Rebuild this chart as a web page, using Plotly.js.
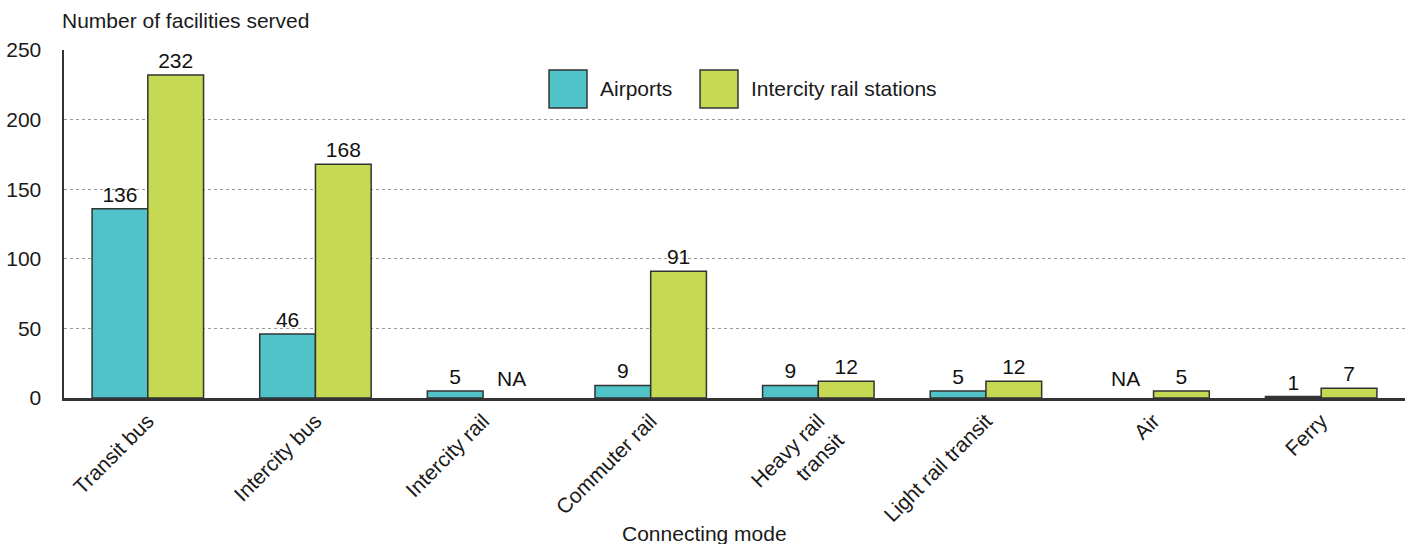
<!DOCTYPE html>
<html>
<head>
<meta charset="utf-8">
<script src="https://cdn.plot.ly/plotly-3.0.1.min.js"></script>
<style>html,body{margin:0;padding:0;background:#fff;}#chart{width:1411px;height:544px;}</style>
</head>
<body>
<div id="chart"></div>
<script>
var categories = ["Transit bus", "Intercity bus", "Intercity rail", "Commuter rail", "Heavy rail<br>transit", "Light rail transit", "Air", "Ferry"];
var airports = [136, 46, 5, 9, 9, 5, null, 1];
var railStations = [232, 168, null, 91, 12, 12, 5, 7];
var seriesNames = ["Airports", "Intercity rail stations"];
var seriesColors = ["#4fc3c8", "#c5da52"];
var yTicks = [0, 50, 100, 150, 200, 250];

var FONT = "Liberation Sans, Arial, Helvetica, sans-serif";
var lineCol = "#333333";

function barTrace(name, vals, color) {
  return {
    type: "bar", name: name, x: categories, y: vals,
    marker: {color: color, line: {color: lineCol, width: 1.5}},
    texttemplate: "%{y}", textposition: "outside", cliponaxis: false,
    textfont: {family: FONT, size: 21, color: "#111"},
    hoverinfo: "x+y"
  };
}

var traces = [
  barTrace(seriesNames[0], airports, seriesColors[0]),
  barTrace(seriesNames[1], railStations, seriesColors[1])
];

var annotations = [];
[airports, railStations].forEach(function (vals, si) {
  vals.forEach(function (v, i) {
    if (v === null) {
      annotations.push({
        x: categories[i], y: 0, xref: "x", yref: "y",
        text: "NA", showarrow: false, yanchor: "bottom", yshift: 6,
        xshift: si === 0 ? -28 : 28,
        font: {family: FONT, size: 21, color: "#111"}
      });
    }
  });
});

annotations.push({
  xref: "paper", yref: "paper", x: -0.003, y: 1.085, xanchor: "left", yanchor: "middle",
  text: "Number of facilities served", showarrow: false,
  font: {family: FONT, size: 21, color: "#1a1a1a"}
});
annotations.push({
  xref: "paper", yref: "paper", x: 0.478, y: -0.39, xanchor: "center", yanchor: "middle",
  text: "Connecting mode", showarrow: false,
  font: {family: FONT, size: 21, color: "#1a1a1a"}
});

// custom legend
var shapes = [];
var legX = [0.3617, 0.4743];
var legW = 0.0283;
seriesNames.forEach(function (n, i) {
  shapes.push({
    type: "rect", xref: "paper", yref: "paper",
    x0: legX[i], x1: legX[i] + legW, y0: 0.8333, y1: 0.9425,
    fillcolor: seriesColors[i], line: {color: lineCol, width: 1.5}
  });
  annotations.push({
    xref: "paper", yref: "paper", x: legX[i] + legW + 0.0085, y: 0.888,
    xanchor: "left", yanchor: "middle", text: n, showarrow: false,
    font: {family: FONT, size: 21, color: "#1a1a1a"}
  });
});

var layout = {
  width: 1411, height: 544,
  margin: {l: 64, r: 6, t: 50, b: 146},
  paper_bgcolor: "#fff", plot_bgcolor: "#fff",
  showlegend: false,
  barmode: "group", bargap: 0.335, bargroupgap: 0,
  font: {family: FONT, color: "#1a1a1a"},
  xaxis: {
    type: "category", tickangle: -45,
    tickfont: {family: FONT, size: 21, color: "#1a1a1a"},
    showline: true, linecolor: lineCol, linewidth: 2.5,
    showgrid: false, ticks: "", zeroline: false
  },
  yaxis: {
    range: [0, 250], tickvals: yTicks, ticktext: yTicks.map(String),
    tickfont: {family: FONT, size: 21, color: "#1a1a1a"},
    showline: true, linecolor: lineCol, linewidth: 2.5,
    showgrid: true, gridcolor: "#999999", griddash: "dot", gridwidth: 1,
    zeroline: false, ticks: "", ticklabelstandoff: 16, fixedrange: true
  },
  annotations: annotations,
  shapes: shapes
};

Plotly.newPlot("chart", traces, layout, {displayModeBar: false, staticPlot: true});
</script>
</body>
</html>
